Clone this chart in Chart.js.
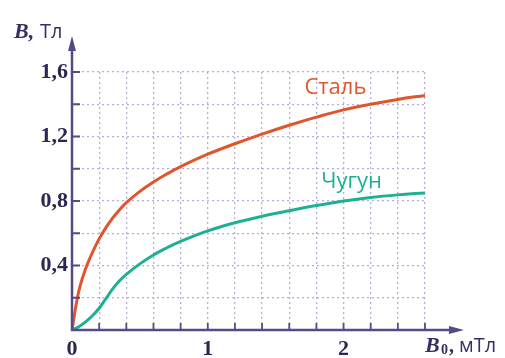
<!DOCTYPE html>
<html>
<head>
<meta charset="utf-8">
<script src="https://cdn.jsdelivr.net/npm/chart.js@4"></script>
<style>
  html, body { margin: 0; padding: 0; background: #fff; }
</style>
</head>
<body>
<canvas id="bChart" width="505" height="358"></canvas>
<script>
// B0, mT (external field)
const fieldB0 = [0, 0.05, 0.1, 0.15, 0.2, 0.25, 0.3, 0.35, 0.4, 0.5, 0.6, 0.7, 0.8, 1.0, 1.2, 1.4, 1.6, 1.8, 2.0, 2.2, 2.4, 2.6];
// B, T
const steelB = [0, 0.24, 0.38, 0.48, 0.565, 0.635, 0.695, 0.745, 0.79, 0.86, 0.918, 0.968, 1.013, 1.09, 1.155, 1.215, 1.27, 1.32, 1.365, 1.40, 1.43, 1.455];
const ironB  = [0, 0.02, 0.05, 0.088, 0.135, 0.195, 0.255, 0.305, 0.345, 0.41, 0.465, 0.51, 0.55, 0.615, 0.665, 0.705, 0.74, 0.772, 0.80, 0.822, 0.838, 0.85];

const xTickValues = [0, 1, 2];
const xTickLabels = ['0', '1', '2'];
const yTickValues = [0.4, 0.8, 1.2, 1.6];
const yTickLabels = ['0,4', '0,8', '1,2', '1,6'];

const AXIS = '#574a86';
const GRID = '#b8acd8';
const STEEL = '#e0562c';
const IRON = '#1fb094';

const toPoints = ys => fieldB0.map((x, i) => ({ x, y: ys[i] }));
const findLabel = (vals, labels, v) => {
    const i = vals.findIndex(t => Math.abs(t - v) < 1e-6);
    return i >= 0 ? labels[i] : '';
};

const axesPlugin = {
    id: 'axesPlugin',
    afterDatasetsDraw(chart) {
        const { ctx, scales: { x, y } } = chart;
        const x0 = x.getPixelForValue(0);
        const y0 = y.getPixelForValue(0);
        ctx.save();
        ctx.strokeStyle = AXIS;
        ctx.fillStyle = AXIS;
        ctx.lineWidth = 2.5;

        // axes
        ctx.beginPath();
        ctx.moveTo(x0, y0 + 1);
        ctx.lineTo(x0, 46);
        ctx.moveTo(x0 - 1, y0);
        ctx.lineTo(454, y0);
        ctx.stroke();

        // arrows
        ctx.beginPath();
        ctx.moveTo(x0, 36);
        ctx.lineTo(x0 - 4, 51);
        ctx.lineTo(x0 + 4, 51);
        ctx.closePath();
        ctx.fill();
        ctx.beginPath();
        ctx.moveTo(464, y0);
        ctx.lineTo(449, y0 - 4);
        ctx.lineTo(449, y0 + 4);
        ctx.closePath();
        ctx.fill();

        // small ticks
        ctx.lineWidth = 1.8;
        ctx.beginPath();
        x.ticks.forEach(t => {
            if (t.value <= 0) return;
            const px = x.getPixelForValue(t.value);
            ctx.moveTo(px, y0);
            ctx.lineTo(px, y0 - 7);
        });
        y.ticks.forEach(t => {
            if (t.value <= 0) return;
            const py = y.getPixelForValue(t.value);
            ctx.moveTo(x0, py);
            ctx.lineTo(x0 + 8, py);
        });
        ctx.stroke();

        // axis titles
        ctx.fillStyle = '#3a2f62';
        ctx.textBaseline = 'alphabetic';
        ctx.textAlign = 'left';
        ctx.font = 'italic bold 22px "Liberation Serif"';
        ctx.fillText('B,', 14, 38);
        ctx.font = '20px "Open Sans"';
        ctx.fillText('Тл', 40, 38);

        ctx.font = 'italic bold 22px "Liberation Serif"';
        ctx.fillText('B', 425, 352);
        ctx.font = 'bold 14px "Liberation Serif"';
        ctx.fillText('0', 441, 354);
        ctx.font = 'bold 20px "Liberation Serif"';
        ctx.fillText(',', 449, 352);
        ctx.font = '20px "Open Sans"';
        ctx.fillText('мТл', 459, 352);

        // curve labels
        ctx.font = '22px "Open Sans"';
        ctx.textAlign = 'center';
        ctx.textBaseline = 'middle';
        ctx.fillStyle = STEEL;
        ctx.fillText('Сталь', x.getPixelForValue(1.94), y.getPixelForValue(1.5));
        ctx.fillStyle = IRON;
        ctx.fillText('Чугун', x.getPixelForValue(2.06), y.getPixelForValue(0.92));
        ctx.restore();
    }
};

new Chart(document.getElementById('bChart').getContext('2d'), {
    type: 'scatter',
    data: {
        datasets: [
            { label: 'Сталь', data: toPoints(steelB), showLine: true, borderColor: STEEL, borderWidth: 3, pointRadius: 0, tension: 0.4 },
            { label: 'Чугун', data: toPoints(ironB), showLine: true, borderColor: IRON, borderWidth: 3, pointRadius: 0, tension: 0.4 }
        ]
    },
    options: {
        responsive: false,
        animation: false,
        events: [],
        layout: { padding: { top: 72, right: 80, left: 0, bottom: 0 } },
        plugins: { legend: { display: false }, tooltip: { enabled: false } },
        scales: {
            x: {
                type: 'linear', min: 0, max: 2.6,
                afterFit: s => { s.height = 28; },
                grid: { color: GRID, lineWidth: 1.3, drawTicks: false },
                border: { display: false, dash: [2, 3] },
                ticks: {
                    stepSize: 0.2, padding: 6, color: '#2e2650', maxRotation: 0, autoSkip: false,
                    font: { family: '"Liberation Serif"', size: 22, weight: 'bold' },
                    callback: v => findLabel(xTickValues, xTickLabels, v)
                }
            },
            y: {
                min: 0, max: 1.6,
                afterFit: s => { s.width = 72; },
                grid: { color: GRID, lineWidth: 1.3, drawTicks: false },
                border: { display: false, dash: [2, 3] },
                ticks: {
                    stepSize: 0.2, padding: 4, color: '#2e2650', autoSkip: false,
                    font: { family: '"Liberation Serif"', size: 22, weight: 'bold' },
                    callback: v => findLabel(yTickValues, yTickLabels, v)
                }
            }
        }
    },
    plugins: [axesPlugin]
});
</script>
</body>
</html>
